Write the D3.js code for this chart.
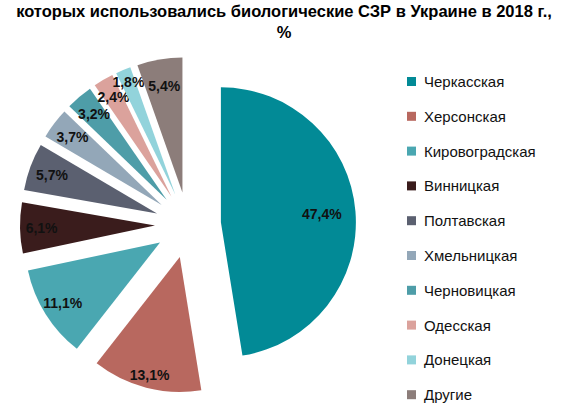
<!DOCTYPE html><html><head><meta charset="utf-8"><script src="https://cdn.jsdelivr.net/npm/d3@7"></script>
<style>body{margin:0;background:#fff}</style></head><body><svg width="569" height="413"></svg>
<script>
const categories=["Черкасская","Херсонская","Кировоградская","Винницкая","Полтавская","Хмельницкая","Черновицкая","Одесская","Донецкая","Другие"];
const values=[47.4,13.1,11.1,6.1,5.7,3.7,3.2,2.4,1.8,5.4];
const colors=["#028A96","#B8685F","#4AA7B1","#3A1C1C","#5B6070","#93A7B8","#4E9DA8","#DBA29C","#92D3DB","#8C7D7A"];
const svg=d3.select("svg");
const f="Liberation Sans, Arial, sans-serif";
svg.append("text").attr("x",284).attr("y",17).attr("text-anchor","middle").attr("font-family",f).attr("font-weight","bold").attr("font-size",16.5).text("которых использовались биологические СЗР в Украине в 2018 г.,");
svg.append("text").attr("x",284).attr("y",38).attr("text-anchor","middle").attr("font-family",f).attr("font-weight","bold").attr("font-size",16.5).text("%");
const cx=188,cy=225,r=135,e=33;
const arcs=d3.pie().sort(null).value(d=>d)(values);
const arc=d3.arc().innerRadius(0).outerRadius(r);
const g=svg.append("g").attr("transform",`translate(${cx},${cy})`);
const lrs=[0.75,0.9,0.85,0.84,0.83,0.83,0.83,0.85,0.9,0.8];
arcs.forEach((a,i)=>{
 const m=(a.startAngle+a.endAngle)/2, dx=e*Math.sin(m), dy=-e*Math.cos(m);
 const s=g.append("g").attr("transform",`translate(${dx},${dy})`);
 s.append("path").attr("d",arc(a)).attr("fill",colors[i]);
 const lr=lrs[i]*r;
 s.append("text").attr("x",lr*Math.sin(m)).attr("y",-lr*Math.cos(m)+5).attr("text-anchor","middle").attr("font-family",f).attr("font-weight","bold").attr("font-size",14).attr("fill","#111").text(String(values[i]).replace(".",",")+"%");
});
const lg=svg.append("g");
categories.forEach((c,i)=>{
 const y=82+i*34.8;
 lg.append("rect").attr("x",407).attr("y",y-5).attr("width",9).attr("height",9).attr("fill",colors[i]);
 lg.append("text").attr("x",424).attr("y",y+5).attr("font-family",f).attr("font-size",15).attr("fill","#111").text(c);
});
</script></body></html>
